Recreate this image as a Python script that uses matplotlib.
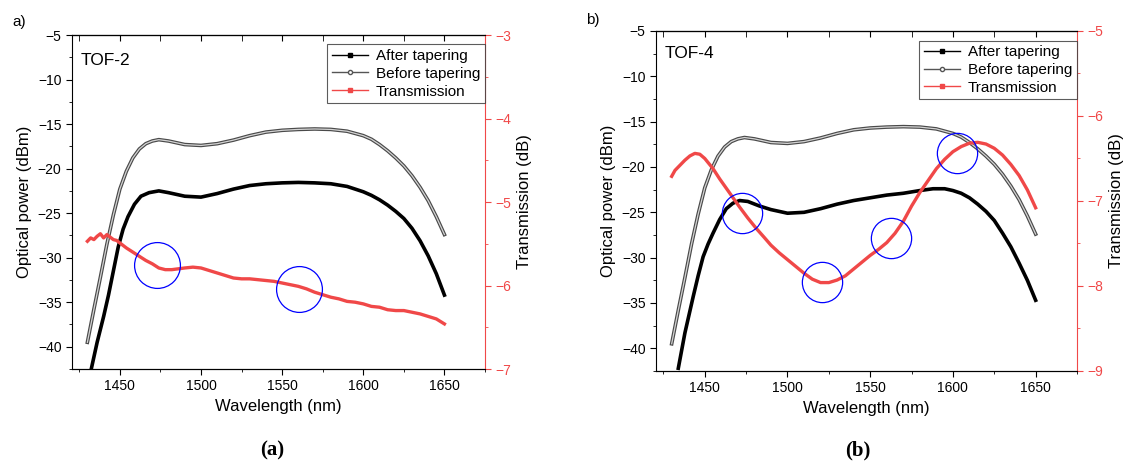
import matplotlib
matplotlib.use("Agg")
import matplotlib.pyplot as plt
from matplotlib.lines import Line2D
from matplotlib.ticker import MultipleLocator, AutoMinorLocator

plt.rcParams['font.family'] = ['Liberation Sans', 'DejaVu Sans']

# --- data ---
# before tapering (same reference spectrum in both panels)
before_wl = [1430, 1434, 1438, 1442, 1446, 1450, 1454, 1458, 1462, 1466, 1470, 1474, 1480,
             1490, 1500, 1510, 1520, 1530, 1540, 1550, 1560, 1570, 1580, 1590, 1600, 1605,
             1610, 1615, 1620, 1625, 1630, 1635, 1640, 1645, 1650]
before_pw = [-39.5, -35.8, -32.2, -28.5, -25.2, -22.3, -20.3, -18.8, -17.8, -17.2, -16.9,
             -16.75, -16.9, -17.3, -17.4, -17.2, -16.8, -16.3, -15.9, -15.7, -15.6, -15.55,
             -15.6, -15.8, -16.3, -16.7, -17.3, -18.0, -18.8, -19.7, -20.8, -22.1, -23.6,
             -25.4, -27.4]

# panel a (TOF-2)
after_a_wl = [1432.5, 1436, 1440, 1443, 1446, 1449, 1452, 1455, 1459, 1463, 1468, 1474, 1480,
              1490, 1500, 1510, 1520, 1530, 1540, 1550, 1560, 1570, 1580, 1590, 1600, 1605,
              1610, 1615, 1620, 1625, 1630, 1635, 1640, 1645, 1650]
after_a_pw = [-42.4, -39.5, -36.6, -34.2, -31.5, -28.8, -26.8, -25.4, -24.0, -23.1, -22.7,
              -22.5, -22.7, -23.1, -23.2, -22.8, -22.3, -21.9, -21.7, -21.6, -21.55, -21.6,
              -21.7, -22.0, -22.6, -23.0, -23.5, -24.1, -24.8, -25.6, -26.7, -28.1, -29.8,
              -31.8, -34.2]
trans_a_wl = [1430, 1432, 1434, 1436, 1438, 1440, 1442, 1444, 1446, 1448, 1450, 1454, 1458,
              1462, 1466, 1470, 1474, 1478, 1482, 1486, 1490, 1495, 1500, 1505, 1510, 1515,
              1520, 1525, 1530, 1535, 1540, 1545, 1550, 1555, 1560, 1565, 1570, 1575, 1580,
              1585, 1590, 1595, 1600, 1605, 1610, 1615, 1620, 1625, 1630, 1635, 1640, 1645,
              1650]
trans_a_db = [-5.47, -5.43, -5.45, -5.41, -5.38, -5.43, -5.39, -5.42, -5.45, -5.46, -5.49,
              -5.55, -5.60, -5.65, -5.70, -5.74, -5.79, -5.81, -5.81, -5.80, -5.79, -5.78,
              -5.79, -5.82, -5.85, -5.88, -5.91, -5.92, -5.92, -5.93, -5.94, -5.95, -5.97,
              -5.99, -6.01, -6.04, -6.08, -6.11, -6.14, -6.16, -6.19, -6.20, -6.22, -6.25,
              -6.26, -6.29, -6.30, -6.30, -6.32, -6.34, -6.37, -6.40, -6.46]
circ_a_wl = [1472.8, 1560.5]
circ_a_db = [-5.76, -6.04]

# panel b (TOF-4)
after_b_wl = [1434, 1438, 1443, 1446, 1449, 1452, 1455, 1459, 1463, 1467, 1471, 1476, 1483,
              1490, 1495, 1500, 1510, 1520, 1530, 1540, 1550, 1560, 1570, 1580, 1588, 1595,
              1600, 1605, 1610, 1615, 1620, 1625, 1630, 1635, 1640, 1645, 1650]
after_b_pw = [-42.2, -38.3, -34.3, -32.0, -29.9, -28.5, -27.3, -25.8, -24.6, -24.0, -23.7,
              -23.8, -24.3, -24.7, -24.9, -25.1, -25.0, -24.6, -24.1, -23.7, -23.4, -23.1,
              -22.9, -22.6, -22.4, -22.4, -22.6, -22.9, -23.4, -24.1, -24.9, -25.9, -27.3,
              -28.8, -30.6, -32.5, -34.7]
trans_b_wl = [1430, 1432, 1435, 1438, 1441, 1444, 1447, 1450, 1455, 1459, 1463, 1467, 1471,
              1476, 1481, 1486, 1490, 1495, 1500, 1505, 1510, 1515, 1520, 1525, 1530, 1535,
              1540, 1545, 1550, 1555, 1560, 1565, 1570, 1575, 1580, 1585, 1590, 1595, 1600,
              1605, 1610, 1615, 1620, 1625, 1630, 1635, 1640, 1645, 1650]
trans_b_db = [-6.71, -6.64, -6.58, -6.52, -6.47, -6.44, -6.45, -6.50, -6.62, -6.74, -6.85,
              -6.96, -7.07, -7.20, -7.32, -7.43, -7.52, -7.61, -7.69, -7.77, -7.85, -7.92,
              -7.96, -7.96, -7.93, -7.88, -7.80, -7.72, -7.64, -7.57, -7.49, -7.38, -7.24,
              -7.06, -6.90, -6.76, -6.62, -6.51, -6.42, -6.36, -6.32, -6.31, -6.33, -6.38,
              -6.46, -6.57, -6.70, -6.87, -7.08]
circ_b_wl = [1472.4, 1520.9, 1562.7, 1602.7]
circ_b_db = [-7.14, -7.95, -7.44, -6.44]

RED = '#f04848'

fig = plt.figure(figsize=(11.3, 4.68), dpi=100)


def draw_panel(rect, after_wl, after_pw, trans_wl, trans_db, circ_wl, circ_db,
               tlim, name, name_y, circ_size):
    ax = fig.add_axes(rect)
    ax.plot(before_wl, before_pw, color='#4a4a4a', lw=2.6)
    ax.plot(before_wl, before_pw, color='#d4d4d4', lw=0.9)
    ax.plot(after_wl, after_pw, color='black', lw=2.6)
    ax.set_xlim(1420.5, 1675)
    ax.set_ylim(-42.5, -5)
    ax.xaxis.set_major_locator(MultipleLocator(50))
    ax.xaxis.set_minor_locator(MultipleLocator(25))
    ax.yaxis.set_major_locator(MultipleLocator(5))
    ax.yaxis.set_minor_locator(AutoMinorLocator(2))
    ax.tick_params(which='both', direction='out', labelsize=10, right=False, top=False)
    ax.tick_params(which='major', length=4)
    ax.tick_params(which='minor', length=2.5)
    ax.set_xlabel('Wavelength (nm)', fontsize=12)
    ax.set_ylabel('Optical power (dBm)', fontsize=12)
    ax.spines['right'].set_visible(False)
    top = ax.secondary_xaxis('top')
    top.xaxis.set_major_locator(MultipleLocator(50))
    top.xaxis.set_minor_locator(MultipleLocator(25))
    top.tick_params(which='both', direction='in', labeltop=False, length=4)

    ax2 = ax.twinx()
    ax2.plot(trans_wl, trans_db, color=RED, lw=2.4)
    ax2.plot(circ_wl, circ_db, 'o', ms=circ_size, mfc='none', mec='blue', mew=0.9)
    ax2.set_ylim(*tlim)
    ax2.yaxis.set_major_locator(MultipleLocator(1))
    ax2.yaxis.set_minor_locator(AutoMinorLocator(2))
    ax2.tick_params(which='both', direction='out', colors=RED, labelsize=10)
    ax2.tick_params(which='major', length=4)
    ax2.tick_params(which='minor', length=2.5)
    ax2.spines['right'].set_color(RED)
    ax2.spines['left'].set_visible(False)
    ax2.set_ylabel('Transmission (dB)', fontsize=12, color='black')

    ax.text(0.02, name_y, name, transform=ax.transAxes, fontsize=12.5,
            va='center', ha='left')

    handles = [
        Line2D([], [], color='black', lw=1, marker='s', ms=2.5),
        Line2D([], [], color='#555555', lw=1, marker='o', ms=3, mfc='white'),
        Line2D([], [], color=RED, lw=1, marker='s', ms=2.5),
    ]
    leg = ax2.legend(handles, ['After tapering', 'Before tapering', 'Transmission'],
                     loc='upper right', bbox_to_anchor=(1.0, 0.972), borderaxespad=0,
                     fontsize=11, frameon=True, fancybox=False, handlelength=2.4,
                     labelspacing=0.25, borderpad=0.3, handletextpad=0.5)
    leg.get_frame().set_edgecolor('#333333')
    leg.get_frame().set_linewidth(0.8)
    return ax, ax2


draw_panel([0.0637, 0.2115, 0.3655, 0.7137], after_a_wl, after_a_pw, trans_a_wl,
           trans_a_db, circ_a_wl, circ_a_db, (-7, -3), 'TOF-2', 0.925, 33)
draw_panel([0.5805, 0.2073, 0.3726, 0.7265], after_b_wl, after_b_pw, trans_b_wl,
           trans_b_db, circ_b_wl, circ_b_db, (-9, -5), 'TOF-4', 0.935, 29)

fig.text(0.0106, 0.953, 'a)', fontsize=11, va='center', ha='left')
fig.text(0.519, 0.957, 'b)', fontsize=11, va='center', ha='left')
fig.text(0.241, 0.038, '(a)', fontsize=15, fontweight='bold', family='Liberation Serif',
         ha='center', va='center')
fig.text(0.759, 0.038, '(b)', fontsize=15, fontweight='bold', family='Liberation Serif',
         ha='center', va='center')

fig.savefig('out.png', dpi=100)
